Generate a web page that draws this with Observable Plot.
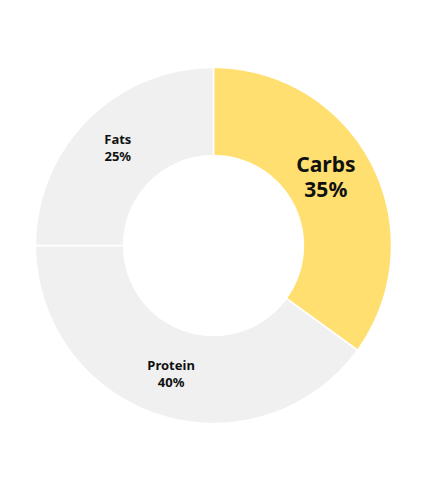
<!DOCTYPE html>
<html>
<head>
<meta charset="utf-8">
<script src="https://cdn.jsdelivr.net/npm/d3@7"></script>
<script src="https://cdn.jsdelivr.net/npm/@observablehq/plot@0.6"></script>
<style>
  html, body { margin: 0; padding: 0; background: #fff; }
  #chart { width: 426px; height: 491px; }
</style>
</head>
<body>
<div id="chart"></div>
<script>
const categories = ["Carbs", "Protein", "Fats"];
const shares = [35, 40, 25];
const colors = ["#FFDF70", "#F0F0F0", "#F0F0F0"];
const labelSizes = [21, 13, 13];

const outerR = 1;
const innerR = 0.505;
const total = d3.sum(shares);

let acc = 0;
const slices = categories.map((c, i) => {
  const a0 = acc / total * 2 * Math.PI;
  acc += shares[i];
  const a1 = acc / total * 2 * Math.PI;
  return {category: c, share: shares[i], a0, a1, color: colors[i], size: labelSizes[i]};
});

const ringPoints = [];
for (const s of slices) {
  const n = 180;
  for (let k = 0; k <= n; k++) {
    const a = s.a0 + (s.a1 - s.a0) * k / n;
    ringPoints.push({category: s.category, color: s.color, x: outerR * Math.sin(a), y: outerR * Math.cos(a)});
  }
  for (let k = n; k >= 0; k--) {
    const a = s.a0 + (s.a1 - s.a0) * k / n;
    ringPoints.push({category: s.category, color: s.color, x: innerR * Math.sin(a), y: innerR * Math.cos(a)});
  }
}

const midR = (outerR + innerR) / 2;
const labels = slices.map(s => {
  const a = (s.a0 + s.a1) / 2;
  return {category: s.category, text: `${s.category}\n${s.share}%`, x: midR * Math.sin(a), y: midR * Math.cos(a), size: s.size};
});
const nudges = {Carbs: [-7, -8], Protein: [-1, 0], Fats: [-1, -4]};

const W = 426, H = 491, R = 178, cx = 213, cy = 245;
const plot = Plot.plot({
  width: W,
  height: H,
  margin: 0,
  x: {type: "linear", domain: [-cx / R, (W - cx) / R], range: [0, W], axis: null},
  y: {type: "linear", domain: [-(H - cy) / R, cy / R], range: [H, 0], axis: null},
  style: {fontFamily: "'Noto Sans', 'Open Sans', sans-serif", background: "#fff"},
  marks: [
    Plot.line(ringPoints, {
      x: "x", y: "y", z: "category",
      fill: d => d.color,
      stroke: "#fff", strokeWidth: 1.5,
      curve: "linear-closed"
    }),
    ...labels.map(l => Plot.text([l], {
      x: "x", y: "y", text: "text",
      dx: nudges[l.category][0], dy: nudges[l.category][1],
      fontSize: l.size, fontWeight: "bold", fill: "#111",
      lineHeight: l.size > 15 ? 1.2 : 1.35
    }))
  ]
});
document.getElementById("chart").append(plot);
</script>
</body>
</html>
